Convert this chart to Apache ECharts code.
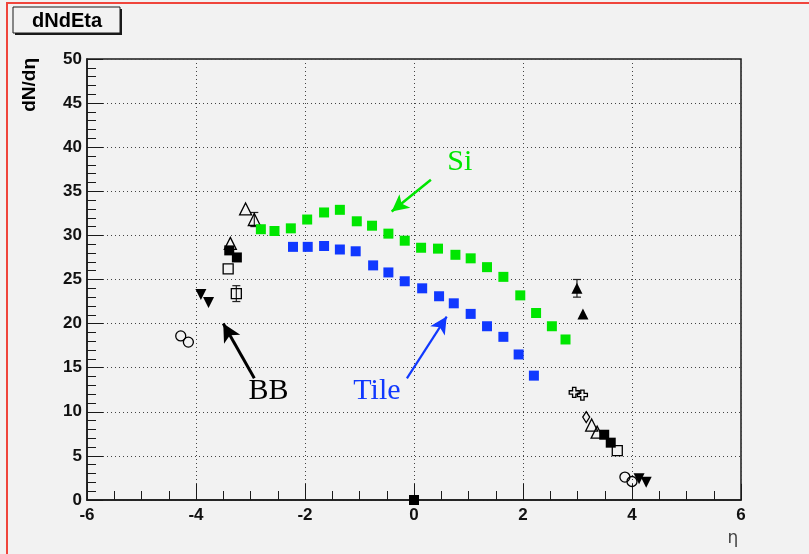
<!DOCTYPE html>
<html>
<head>
<meta charset="utf-8">
<script src="https://cdn.jsdelivr.net/npm/echarts@6/dist/echarts.min.js"></script>
<style>
  html, body { margin: 0; padding: 0; background: #f2f2f2; }
  #main { width: 809px; height: 554px; }
</style>
</head>
<body>
<div id="main"></div>
<script>
// Si and Tile measurements
var siEta = [-2.81, -2.56, -2.26, -1.96, -1.65, -1.36, -1.05, -0.77, -0.47, -0.17, 0.13, 0.44, 0.76, 1.04, 1.34, 1.64, 1.95, 2.24, 2.53, 2.78];
var siVal = [30.7, 30.5, 30.8, 31.8, 32.6, 32.9, 31.6, 31.1, 30.2, 29.4, 28.6, 28.5, 27.8, 27.4, 26.4, 25.3, 23.2, 21.2, 19.7, 18.2];
var tileEta = [-2.22, -1.95, -1.65, -1.36, -1.07, -0.75, -0.47, -0.17, 0.15, 0.46, 0.73, 1.04, 1.34, 1.64, 1.92, 2.20];
var tileVal = [28.7, 28.7, 28.8, 28.4, 28.2, 26.6, 25.8, 24.8, 24.0, 23.1, 22.3, 21.1, 19.7, 18.5, 16.5, 14.1];

// other experiments (BB etc), [eta, dN/deta]
var openCircle = [[-4.28, 18.6], [-4.14, 17.9], [3.87, 2.6], [4.00, 2.1]];
var downTri = [[-3.91, 23.3], [-3.77, 22.4], [4.13, 2.4], [4.26, 2.0]];
var openTri = [[-3.09, 33.0], [-2.93, 31.8], [-3.37, 29.1], [3.26, 8.5], [3.36, 7.7]];
var fullSquare = [[-3.39, 28.3], [-3.25, 27.5], [3.49, 7.4], [3.61, 6.5], [0, 0]];
var openSquare = [[-3.41, 26.2], [-3.26, 23.4], [3.73, 5.6]];
var fullTri = [[2.99, 24.0], [3.10, 21.1]];
var openCross = [[2.94, 12.2], [3.09, 11.9]];
var openDiamond = [[3.16, 9.4]];
// [eta, value, error]
var errBars = [[-2.93, 31.8, 0.8], [-3.26, 23.4, 0.9], [2.99, 24.0, 1.0]];

var green = '#00e600';
var blue = '#1038ff';
var ink = '#000';

function zip(a, b) {
  return a.map(function (v, i) { return [v, b[i]]; });
}

var myChart = echarts.init(document.getElementById('main'));

function marker(name, data, symbol, size, filled, extra) {
  var s = {
    name: name,
    type: 'scatter',
    data: data,
    symbol: symbol,
    symbolSize: size,
    z: 5,
    itemStyle: filled
      ? { color: ink, opacity: 1 }
      : { color: 'rgba(0,0,0,0)', borderColor: ink, borderWidth: 1.3, opacity: 1 }
  };
  if (extra) Object.assign(s, extra);
  return s;
}

var axisFont = { fontFamily: 'Liberation Sans', fontWeight: 'bold', fontSize: 17, color: '#111' };

var option = {
  animation: false,
  backgroundColor: '#f2f2f2',
  grid: { left: 87, right: 68, top: 59, bottom: 54, show: true, borderColor: '#1a1a1a', borderWidth: 1.5 },
  xAxis: {
    type: 'value', min: -6, max: 6, interval: 2,
    axisLine: { show: true, onZero: false, lineStyle: { color: '#1a1a1a', width: 1.5 } },
    axisTick: { show: true, inside: true, length: 16, lineStyle: { color: '#1a1a1a' } },
    minorTick: { show: true, splitNumber: 4, length: 9, lineStyle: { color: '#1a1a1a' } },
    axisLabel: Object.assign({ margin: 7 }, axisFont),
    splitLine: { show: true, lineStyle: { type: [1, 3], color: '#444', width: 1 } }
  },
  yAxis: {
    type: 'value', min: 0, max: 50, interval: 5,
    axisLine: { show: true, onZero: false, lineStyle: { color: '#1a1a1a', width: 1.5 } },
    axisTick: { show: true, inside: true, length: 16, lineStyle: { color: '#1a1a1a' } },
    minorTick: { show: true, splitNumber: 5, length: 9, lineStyle: { color: '#1a1a1a' } },
    axisLabel: Object.assign({ margin: 5 }, axisFont),
    splitLine: { show: true, lineStyle: { type: [1, 3], color: '#444', width: 1 } }
  },
  series: [
    {
      name: 'errors', type: 'custom', data: errBars, z: 4,
      encode: { x: 0, y: 1 },
      renderItem: function (params, api) {
        var x = api.value(0), y = api.value(1), e = api.value(2);
        var t = api.coord([x, y + e]), b = api.coord([x, y - e]);
        var st = { stroke: '#222', lineWidth: 1.2 };
        return {
          type: 'group',
          children: [
            { type: 'line', shape: { x1: t[0], y1: t[1], x2: b[0], y2: b[1] }, style: st },
            { type: 'line', shape: { x1: t[0] - 4, y1: t[1], x2: t[0] + 4, y2: t[1] }, style: st },
            { type: 'line', shape: { x1: b[0] - 4, y1: b[1], x2: b[0] + 4, y2: b[1] }, style: st }
          ]
        };
      }
    },
    {
      name: 'Si', type: 'scatter', data: zip(siEta, siVal), symbol: 'rect', symbolSize: 10, z: 6,
      itemStyle: { color: green, opacity: 1 },
      markLine: {
        silent: true, symbol: ['none', 'arrow'], symbolSize: [13, 17], label: { show: false },
        data: [
          [{ coord: [0.31, 36.3], lineStyle: { color: green, width: 2.5, type: 'solid' } }, { coord: [-0.41, 32.7] }]
        ]
      }
    },
    {
      name: 'Tile', type: 'scatter', data: zip(tileEta, tileVal), symbol: 'rect', symbolSize: 10, z: 6,
      itemStyle: { color: blue, opacity: 1 },
      markLine: {
        silent: true, symbol: ['none', 'arrow'], symbolSize: [13, 17], label: { show: false },
        data: [
          [{ coord: [-0.13, 13.8], lineStyle: { color: blue, width: 2.2, type: 'solid' } }, { coord: [0.60, 20.8] }]
        ]
      }
    },
    marker('openCircle', openCircle, 'circle', 10, false, {
      markLine: {
        silent: true, symbol: ['none', 'arrow'], symbolSize: [14, 18], label: { show: false },
        data: [
          [{ coord: [-2.93, 13.8], lineStyle: { color: ink, width: 3, type: 'solid' } }, { coord: [-3.50, 20.0] }]
        ]
      }
    }),
    marker('downTri', downTri, 'triangle', 11, true, { symbolRotate: 180 }),
    marker('openTri', openTri, 'triangle', 12, false),
    marker('fullSquare', fullSquare, 'rect', 10, true),
    marker('openSquare', openSquare, 'rect', 10, false),
    marker('fullTri', fullTri, 'triangle', 11, true),
    marker('openCross', openCross, 'path://M3,0H6V3H9V6H6V9H3V6H0V3H3Z', 10, false),
    marker('openDiamond', openDiamond, 'diamond', [7, 11], false)
  ]
};

myChart.setOption(option);

// annotations placed in data coordinates
function px(p) { return myChart.convertToPixel({ gridIndex: 0 }, p); }
var siPos = px([0.84, 38.3]);
var tilePos = px([-0.68, 12.3]);
var bbPos = px([-2.67, 12.3]);
var serif = 'Liberation Serif';

myChart.setOption({
  graphic: [
    { type: 'rect', shape: { x: 7, y: 3, width: 830, height: 600 }, style: { fill: 'none', stroke: '#f0453c', lineWidth: 2 }, z: 100 },
    { type: 'rect', shape: { x: 15, y: 9, width: 107, height: 26 }, style: { fill: '#1a1a1a' }, z: 100 },
    { type: 'rect', shape: { x: 13, y: 7, width: 107, height: 26 }, style: { fill: '#f2f2f2', stroke: '#1a1a1a', lineWidth: 1 }, z: 101 },
    { type: 'text', x: 67, y: 21, style: { text: 'dNdEta', font: 'bold 20px Liberation Sans', fill: ink, align: 'center', verticalAlign: 'middle' }, z: 102 },
    { type: 'text', x: 30, y: 58, rotation: Math.PI / 2, style: { text: 'dN/dη', font: 'bold 19px Liberation Sans', fill: ink, align: 'right', verticalAlign: 'middle' }, z: 102 },
    { type: 'text', x: 733, y: 539, style: { text: 'η', font: '17px DejaVu Sans', fill: '#444', align: 'center', verticalAlign: 'middle' }, z: 102 },
    { type: 'text', x: siPos[0], y: siPos[1], style: { text: 'Si', font: '30px ' + serif, fill: green, align: 'center', verticalAlign: 'middle' }, z: 102 },
    { type: 'text', x: tilePos[0], y: tilePos[1], style: { text: 'Tile', font: '30px ' + serif, fill: blue, align: 'center', verticalAlign: 'middle' }, z: 102 },
    { type: 'text', x: bbPos[0], y: bbPos[1], style: { text: 'BB', font: '30px ' + serif, fill: ink, align: 'center', verticalAlign: 'middle' }, z: 102 }
  ]
});
</script>
</body>
</html>
